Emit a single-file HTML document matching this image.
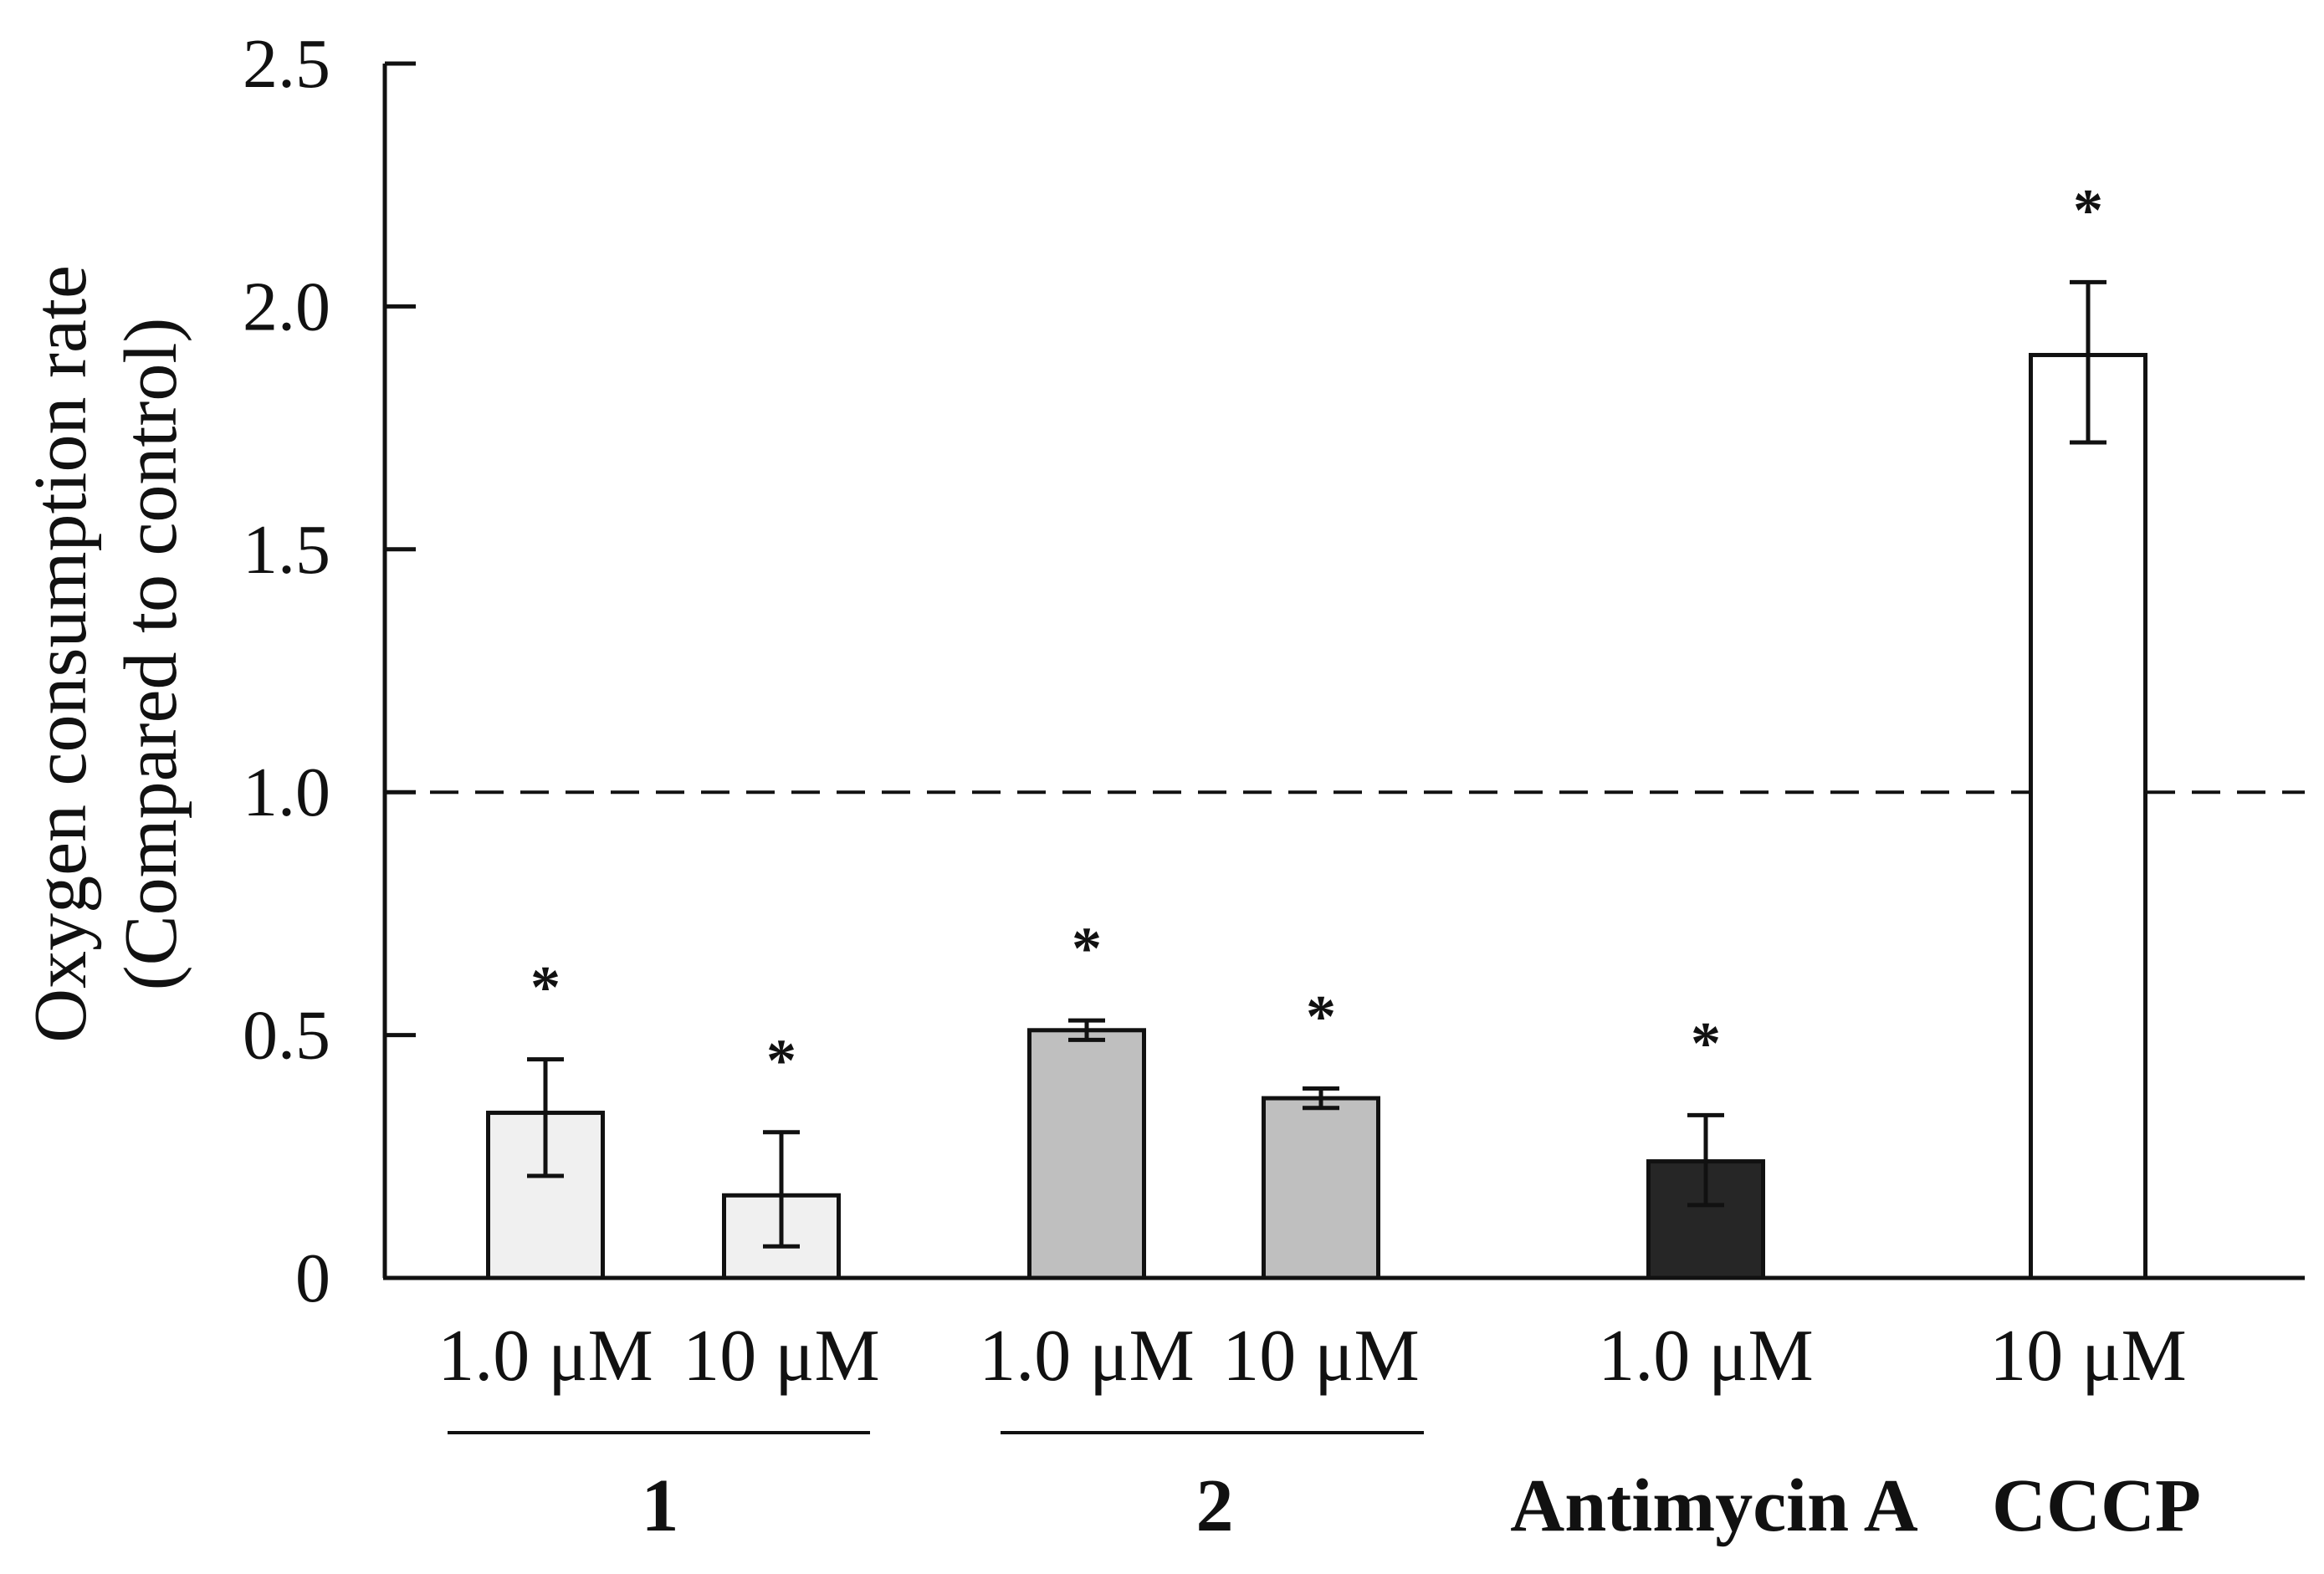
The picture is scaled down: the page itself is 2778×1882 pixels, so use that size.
<!DOCTYPE html>
<html><head><meta charset="utf-8"><style>
html,body{margin:0;padding:0;background:#fff;}
svg{display:block;font-family:"Liberation Serif",serif;}
</style></head><body>
<svg id="chart" width="2778" height="1882" viewBox="0 0 2778 1882">
<g id="axes"></g>
<g id="bars"></g>
<g id="labels"></g>
</svg>
<script>
const categories = ["1.0 μM","10 μM","1.0 μM","10 μM","1.0 μM","10 μM"];
const values = [0.34, 0.17, 0.51, 0.37, 0.24, 1.90];
const errHigh = [0.45, 0.30, 0.53, 0.39, 0.335, 2.05];
const errLow = [0.21, 0.065, 0.49, 0.35, 0.15, 1.72];
const fills = ["#f0f0f0","#f0f0f0","#bfbfbf","#bfbfbf","#262626","#ffffff"];
const yTicks = [0, 0.5, 1.0, 1.5, 2.0, 2.5];
const yTickLabels = ["0","0.5","1.0","1.5","2.0","2.5"];
const groupNames = ["1","2","Antimycin A","CCCP"];
const refValue = 1.0;

const NS="http://www.w3.org/2000/svg";
const X0=460, X1=2755, Y0=1528, YTOP=76, YMAX=2.5;
const barCenters=[652,934,1299,1579,2039,2496];
const barW=137;
function y(v){return Y0-(v/YMAX)*(Y0-YTOP);}
function mk(tag,attrs,parent,text){const e=document.createElementNS(NS,tag);for(const k in attrs)e.setAttribute(k,attrs[k]);if(text!==undefined)e.textContent=text;parent.appendChild(e);return e;}
const axes=document.getElementById('axes'), bars=document.getElementById('bars'), labels=document.getElementById('labels');

let e=mk('line',{x1:X0,y1:YTOP,x2:X0,y2:Y0,stroke:'#111','stroke-width':5},axes);


e=mk('line',{x1:X0-2,y1:Y0,x2:X1,y2:Y0,stroke:'#111','stroke-width':5},axes);


yTicks.forEach((t,i)=>{
  const tk=mk('line',{x1:X0,y1:y(t),x2:X0+37,y2:y(t),stroke:'#111','stroke-width':5},axes);
  
  
  const tl=mk('text',{x:395,y:y(t)+28,'text-anchor':'end','font-size':84,fill:'#111'},axes,yTickLabels[i]);
  
  
});
e=mk('line',{x1:X0,y1:y(refValue),x2:X1,y2:y(refValue),stroke:'#111','stroke-width':4,'stroke-dasharray':'34,20'},axes);


e=mk('text',{transform:'translate(102,782) rotate(-90)','text-anchor':'middle','font-size':90,fill:'#111'},axes,'Oxygen consumption rate');


e=mk('text',{transform:'translate(210,782) rotate(-90)','text-anchor':'middle','font-size':90,fill:'#111'},axes,'(Compared to control)');



values.forEach((v,i)=>{
  const cx=barCenters[i];
  const r=mk('rect',{x:cx-barW/2,y:y(v),width:barW,height:Y0-y(v),fill:fills[i],stroke:'#111','stroke-width':5},bars);
  
  
  const g=mk('g',{stroke:'#111','stroke-width':5},bars);
  
  
  mk('line',{x1:cx,y1:y(errHigh[i]),x2:cx,y2:y(errLow[i])},g);
  mk('line',{x1:cx-22,y1:y(errHigh[i]),x2:cx+22,y2:y(errHigh[i])},g);
  mk('line',{x1:cx-22,y1:y(errLow[i]),x2:cx+22,y2:y(errLow[i])},g);
  const s=mk('text',{x:cx,y:y(errHigh[i])-62,'text-anchor':'middle','font-size':72,'font-weight':'bold',fill:'#111'},bars,'*');
  
  
  const cl=mk('text',{x:cx,y:1650,'text-anchor':'middle','font-size':88,fill:'#111'},labels,categories[i]);
  
  
});
[[535,1040],[1196,1702]].forEach(([a,b])=>{
  const l=mk('line',{x1:a,y1:1713,x2:b,y2:1713,stroke:'#111','stroke-width':4},labels);
  
  
});
const groupX=[789,1452,2049,2506];
groupNames.forEach((n,i)=>{
  const t=mk('text',{x:groupX[i],y:1830,'text-anchor':'middle','font-size':90,'font-weight':'bold',fill:'#111'},labels,n);
  
  
});
</script>
</body></html>
